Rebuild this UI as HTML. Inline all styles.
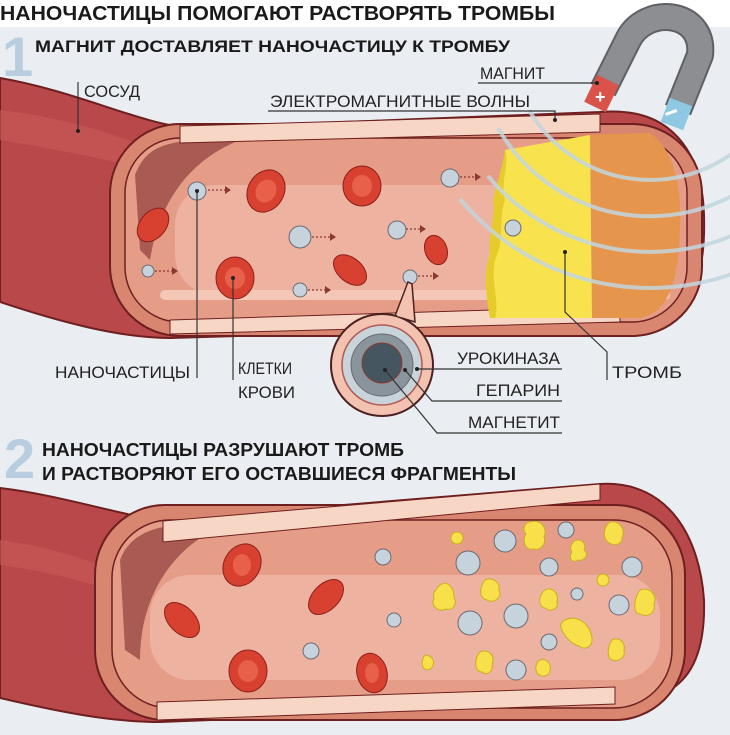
<!DOCTYPE html>
<html><head><meta charset="utf-8"><style>
html,body{margin:0;padding:0;background:#eaeef2;}
svg{display:block}
text{font-family:"Liberation Sans Narrow","Liberation Sans",sans-serif;}
</style></head><body>
<svg width="730" height="735" viewBox="0 0 730 735" xmlns="http://www.w3.org/2000/svg">
<rect width="730" height="735" fill="#eaeef2"/>
<rect width="730" height="27" fill="#ffffff"/>
<!-- headings -->
<text x="0" y="20" font-size="20" font-weight="bold" fill="#1a1a1a" textLength="555" lengthAdjust="spacingAndGlyphs">НАНОЧАСТИЦЫ ПОМОГАЮТ РАСТВОРЯТЬ ТРОМБЫ</text>
<text x="2" y="76" font-size="56" font-weight="bold" fill="#b9cde0" font-family="Liberation Sans">1</text>
<text x="35" y="52" font-size="17" font-weight="bold" fill="#1a1a1a" textLength="475" lengthAdjust="spacingAndGlyphs">МАГНИТ ДОСТАВЛЯЕТ НАНОЧАСТИЦУ К ТРОМБУ</text>

<!-- VESSEL 1 -->
<path d="M0,78 C80,92 140,124 190,128 L600,112 C670,106 702,150 704,215 C706,280 690,322 640,324 L170,338 C120,338 60,322 0,302 Z" fill="#b8484a" stroke="#6e1f1f" stroke-width="2"/>
<path d="M0,110 C80,120 130,140 150,150 L150,170 C110,160 60,150 0,140 Z" fill="#c95a5a" opacity="0.6"/>
<rect x="110" y="124" width="592" height="212" rx="70" fill="#d98670" stroke="#6e1f1f" stroke-width="2"/>
<rect x="125" y="138" width="562" height="184" rx="55" fill="#e59d88" stroke="#6e1f1f" stroke-width="1.5"/>
<path d="M135,175 C145,150 160,142 200,140 L240,140 C190,160 160,200 150,260 L140,250 Z" fill="#a95a52"/>
<rect x="175" y="185" width="500" height="110" rx="40" fill="#eeb2a0"/>
<rect x="160" y="290" width="510" height="10" rx="5" fill="#f4c7b6"/>
<polygon points="180,126 600,114 600,132 180,143" fill="#f8d6c6" stroke="#6e1f1f" stroke-width="1"/>
<polygon points="170,320 620,306 620,322 170,334" fill="#f8d6c6" stroke="#6e1f1f" stroke-width="1"/>
<!-- clot -->
<path d="M585,135 L650,133 C675,150 682,190 680,230 C678,280 670,312 640,318 L590,318 Z" fill="#e5954c"/>
<path d="M505,150 L590,135 L592,318 L490,318 C488,300 482,280 490,265 C486,245 500,230 494,210 C500,190 505,175 505,150 Z" fill="#f8e34e"/>
<path d="M505,150 C510,165 500,180 505,200 C498,220 505,240 495,260 C490,280 500,300 495,318 L490,318 C485,290 484,270 490,255 C488,235 496,215 493,200 C498,180 503,165 505,150 Z" fill="#e6cc2a"/>
<!-- waves -->
<g fill="none" stroke="#c3d6df" stroke-width="4" opacity="0.85">
<path d="M529,110 A140,140 0 0 0 765,120"/>
<path d="M498,128 A175,175 0 0 0 802,128"/>
<path d="M488,176 A212,212 0 0 0 834,146"/>
<path d="M460,199 A248,248 0 0 0 865,164"/>
</g>
<!-- magnet -->
<path d="M603,90 L628,40 C645,5 705,10 700,55 L678,110" fill="none" stroke="#5e6064" stroke-width="28" stroke-linejoin="round"/>
<path d="M603,90 L628,40 C645,5 705,10 700,55 L678,110" fill="none" stroke="#8d8e91" stroke-width="24" stroke-linejoin="round"/>
<path d="M608,80 L595,107" stroke="#d9534a" stroke-width="24" fill="none"/>
<text x="595" y="103" font-size="18" font-weight="bold" fill="#fff">+</text>
<path d="M681,102 L672,126" stroke="#8fc8e2" stroke-width="24" fill="none"/>
<rect x="665" y="111" width="12" height="3" fill="#fff" transform="rotate(-20 671 112)"/>
<!-- red cells -->
<g fill="#d8412f" stroke="#8a1f1a" stroke-width="1">
<ellipse cx="266" cy="191" rx="18" ry="22" transform="rotate(30 266 191)"/>
<ellipse cx="362" cy="186" rx="19" ry="20"/>
<ellipse cx="153" cy="225" rx="13" ry="19" transform="rotate(40 153 225)"/>
<ellipse cx="235" cy="278" rx="19" ry="21"/>
<ellipse cx="350" cy="270" rx="12" ry="19" transform="rotate(-50 350 270)"/>
<ellipse cx="436" cy="250" rx="11" ry="15" transform="rotate(-20 436 250)"/>
</g>
<g fill="#e8604a">
<ellipse cx="266" cy="191" rx="10" ry="12" transform="rotate(30 266 191)"/>
<ellipse cx="362" cy="186" rx="10" ry="11"/>
<ellipse cx="235" cy="278" rx="10" ry="11"/>
</g>
<!-- nanoparticles -->
<g fill="#c7d3dc" stroke="#6a6a72" stroke-width="1">
<circle cx="197" cy="191" r="9"/><circle cx="450" cy="178" r="9"/>
<circle cx="300" cy="237" r="11"/><circle cx="397" cy="230" r="9"/>
<circle cx="148" cy="271" r="6"/><circle cx="300" cy="290" r="7"/>
<circle cx="410" cy="277" r="7"/><circle cx="513" cy="228" r="8"/>
</g>
<g fill="none" stroke="#8a3a30" stroke-width="1.3" stroke-dasharray="2 2">
<path d="M208,190 H225"/><path d="M460,177 H475"/><path d="M312,237 H330"/><path d="M406,229 H420"/><path d="M155,271 H172"/><path d="M308,290 H325"/><path d="M418,276 H433"/>
</g>
<g fill="#8a3a30">
<path d="M225,186 l6,4 -6,4z"/><path d="M475,173 l6,4 -6,4z"/><path d="M330,233 l6,4 -6,4z"/><path d="M420,225 l6,4 -6,4z"/><path d="M172,267 l6,4 -6,4z"/><path d="M325,286 l6,4 -6,4z"/><path d="M433,272 l6,4 -6,4z"/>
</g>
<!-- callout -->
<path d="M395,316 L408,282 L412,284 L415,322 Z" fill="#f3c2b0" stroke="#4a2020" stroke-width="1.5"/>
<circle cx="382" cy="365" r="51" fill="#f3c2b0" stroke="#4a2020" stroke-width="2"/>
<path d="M397,316 L408,284 L413,320" fill="#f3c2b0"/>
<circle cx="382" cy="365" r="40" fill="#c9d3da" stroke="#b05a55" stroke-width="1.5"/>
<circle cx="382" cy="365" r="31" fill="#8a949c" stroke="#6a6a72" stroke-width="1"/>
<circle cx="382" cy="363" r="20" fill="#465660" stroke="#8a3a30" stroke-width="1"/>
<!-- leader lines -->
<g stroke="#333" stroke-width="1.2" fill="none">
<path d="M78,82 V131"/>
<path d="M197,191 V378"/>
<path d="M233,278 V380"/>
<path d="M478,83 H597"/>
<path d="M268,111 H555 V120"/>
<path d="M417,369 H562"/>
<path d="M405,370 L432,401 H562"/>
<path d="M385,370 L437,433 H562"/>
<path d="M565,252 V312 L607,352 V380"/>
</g>
<g fill="#222">
<circle cx="78" cy="131" r="2"/><circle cx="197" cy="191" r="2"/><circle cx="233" cy="278" r="2"/><circle cx="597" cy="83" r="2"/><circle cx="555" cy="120" r="2"/><circle cx="417" cy="369" r="2"/><circle cx="405" cy="370" r="2"/><circle cx="385" cy="370" r="2"/><circle cx="565" cy="252" r="2"/>
</g>
<g font-size="17" fill="#222" lengthAdjust="spacingAndGlyphs">
<text x="84" y="97" textLength="56" lengthAdjust="spacingAndGlyphs">СОСУД</text>
<text x="480" y="79" textLength="65" lengthAdjust="spacingAndGlyphs">МАГНИТ</text>
<text x="270" y="107" textLength="260" lengthAdjust="spacingAndGlyphs">ЭЛЕКТРОМАГНИТНЫЕ ВОЛНЫ</text>
<text x="55" y="378" textLength="135" lengthAdjust="spacingAndGlyphs">НАНОЧАСТИЦЫ</text>
<text x="238" y="374" textLength="54" lengthAdjust="spacingAndGlyphs">КЛЕТКИ</text>
<text x="238" y="398" textLength="57" lengthAdjust="spacingAndGlyphs">КРОВИ</text>
<text x="457" y="364" textLength="103" lengthAdjust="spacingAndGlyphs">УРОКИНАЗА</text>
<text x="476" y="396" textLength="84" lengthAdjust="spacingAndGlyphs">ГЕПАРИН</text>
<text x="468" y="428" textLength="92" lengthAdjust="spacingAndGlyphs">МАГНЕТИТ</text>
<text x="612" y="378" textLength="70" lengthAdjust="spacingAndGlyphs">ТРОМБ</text>
</g>

<!-- section 2 -->
<text x="4" y="478" font-size="56" font-weight="bold" fill="#b9cde0" font-family="Liberation Sans">2</text>
<text x="42" y="456" font-size="18" font-weight="bold" fill="#1a1a1a" textLength="362" lengthAdjust="spacingAndGlyphs">НАНОЧАСТИЦЫ РАЗРУШАЮТ ТРОМБ</text>
<text x="42" y="480" font-size="18" font-weight="bold" fill="#1a1a1a" textLength="474" lengthAdjust="spacingAndGlyphs">И РАСТВОРЯЮТ ЕГО ОСТАВШИЕСЯ ФРАГМЕНТЫ</text>

<path d="M0,488 C60,495 120,515 160,520 L600,484 C670,480 700,540 704,600 C706,670 680,700 620,704 L160,722 C110,722 60,712 0,698 Z" fill="#b8484a" stroke="#6e1f1f" stroke-width="2"/>
<path d="M0,540 C60,548 100,565 110,570 L110,590 C80,580 40,570 0,565 Z" fill="#c95a5a" opacity="0.6"/>
<rect x="95" y="505" width="590" height="215" rx="70" fill="#d98670" stroke="#6e1f1f" stroke-width="2"/>
<rect x="112" y="520" width="560" height="188" rx="58" fill="#e59d88" stroke="#6e1f1f" stroke-width="1.5"/>
<path d="M120,560 C130,535 150,525 200,523 L230,523 C170,545 140,600 140,660 L125,650 Z" fill="#a95a52"/>
<rect x="150" y="575" width="510" height="105" rx="40" fill="#eeb2a0"/>
<polygon points="163,521 600,484 600,500 163,542" fill="#f8d6c6" stroke="#6e1f1f" stroke-width="1"/>
<polygon points="157,702 615,687 615,704 157,720" fill="#f8d6c6" stroke="#6e1f1f" stroke-width="1"/>
<g fill="#d8412f" stroke="#8a1f1a" stroke-width="1">
<ellipse cx="242" cy="565" rx="18" ry="22" transform="rotate(30 242 565)"/>
<ellipse cx="326" cy="597" rx="13" ry="21" transform="rotate(45 326 597)"/>
<ellipse cx="182" cy="620" rx="13" ry="21" transform="rotate(-45 182 620)"/>
<ellipse cx="248" cy="671" rx="19" ry="21"/>
<ellipse cx="372" cy="673" rx="15" ry="20" transform="rotate(-15 372 673)"/>
</g>
<g fill="#e8604a"><ellipse cx="242" cy="565" rx="9" ry="11"/><ellipse cx="248" cy="671" rx="10" ry="11"/><ellipse cx="372" cy="673" rx="7" ry="10"/></g>
<g fill="#c7d3dc" stroke="#6a6a72" stroke-width="1">
<circle cx="383" cy="557" r="8"/><circle cx="394" cy="620" r="7"/><circle cx="311" cy="651" r="8"/>
<circle cx="505" cy="541" r="11"/><circle cx="566" cy="530" r="8"/><circle cx="468" cy="563" r="12"/>
<circle cx="549" cy="567" r="9"/><circle cx="632" cy="567" r="10"/><circle cx="577" cy="594" r="6"/>
<circle cx="516" cy="616" r="12"/><circle cx="470" cy="623" r="12"/><circle cx="619" cy="605" r="10"/>
<circle cx="549" cy="642" r="8"/><circle cx="516" cy="670" r="10"/>
</g>
<g fill="#f7e04a" stroke="#c8b020" stroke-width="1">
<circle cx="457" cy="538" r="6"/>
<path d="M530,522 c10,-3 18,5 14,15 c3,8 -5,14 -10,12 c-10,2 -12,-10 -8,-15 c-5,-6 0,-12 4,-12z"/>
<path d="M610,522 c10,-2 16,8 12,16 c0,8 -10,8 -14,4 c-6,-4 -4,-16 2,-20z"/>
<path d="M578,540 c6,0 8,6 6,10 c6,4 0,12 -6,10 c-6,4 -10,-2 -6,-8 c-4,-6 2,-12 6,-12z"/>
<path d="M440,585 c8,-6 14,4 14,12 c4,8 -2,14 -8,12 c-8,4 -16,-4 -12,-10 c-2,-6 2,-10 6,-14z"/>
<path d="M485,580 c8,-4 16,4 14,10 c4,8 -6,14 -12,10 c-8,-2 -8,-12 -2,-20z"/>
<path d="M545,590 c8,-4 14,4 12,12 c2,8 -8,10 -12,6 c-8,-2 -6,-14 0,-18z"/>
<circle cx="603" cy="580" r="6"/>
<path d="M640,590 c10,-4 18,6 14,14 c2,10 -8,14 -14,10 c-8,0 -6,-16 0,-24z"/>
<path d="M565,620 c12,-6 24,4 26,14 c4,10 -4,18 -12,12 c-8,-2 -14,-10 -16,-14 c-4,-6 -2,-10 2,-12z"/>
<path d="M612,640 c8,-4 14,4 12,10 c2,8 -6,12 -12,10 c-6,-2 -4,-14 0,-20z"/>
<path d="M480,652 c8,-4 16,4 12,12 c2,8 -6,12 -10,8 c-8,0 -8,-14 -2,-20z"/>
<path d="M425,655 c6,0 10,6 8,10 c-2,6 -8,6 -10,2 c-2,-4 0,-10 2,-12z"/>
<path d="M540,660 c6,-2 12,4 10,10 c0,6 -8,8 -12,4 c-4,-4 -2,-12 2,-14z"/>
</g>
</svg>
</body></html>
